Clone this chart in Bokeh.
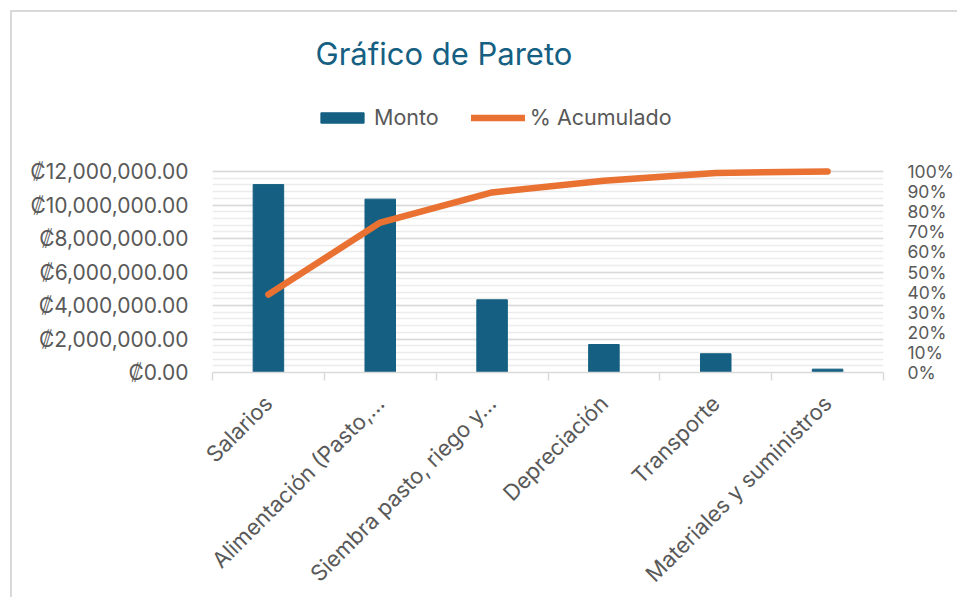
from bokeh.plotting import figure
from bokeh.models import (Range1d, FixedTicker, LinearAxis, Legend, LegendItem,
                          ColumnDataSource, Label)
from bokeh.embed import file_html
from bokeh.resources import INLINE

# ---- data ----
categories = ["Salarios", "Alimentación (Pasto,…", "Siembra pasto, riego y…",
              "Depreciación", "Transporte", "Materiales y suministros"]
monto = [11220000, 10350000, 4340000, 1670000, 1120000, 200000]
acumulado = [38.8, 74.6, 89.6, 95.4, 99.3, 100.0]

left_ticks = [0, 2000000, 4000000, 6000000, 8000000, 10000000, 12000000]
left_labels = ["₡0.00", "₡2,000,000.00", "₡4,000,000.00", "₡6,000,000.00",
               "₡8,000,000.00", "₡10,000,000.00", "₡12,000,000.00"]
minor_step = 400000
right_ticks = [0, 10, 20, 30, 40, 50, 60, 70, 80, 90, 100]
right_labels = ["0%", "10%", "20%", "30%", "40%", "50%", "60%", "70%",
                "80%", "90%", "100%"]

title_text = "Gráfico de Pareto"
FONT = "Inter"
TXT = "#595959"
BAR = "#156082"
LINE = "#E97132"

# ---- layout (pixels) ----
PLOT_H = 201          # height of the 0..12M band
FRAME_H = 342         # frame extends upward to hold title & legend
FRAME_W = 671

n = len(categories)
xs = [i + 0.5 for i in range(n)]
bounds = list(range(n + 1))
src = ColumnDataSource(dict(x=xs, monto=monto, acum=acumulado, cat=categories))

y_end = left_ticks[-1] * FRAME_H / PLOT_H
pct_end = right_ticks[-1] * FRAME_H / PLOT_H

p = figure(frame_width=FRAME_W, frame_height=FRAME_H,
           min_border_left=200, min_border_right=74,
           min_border_top=18, min_border_bottom=215,
           x_range=Range1d(0, n), y_range=Range1d(0, y_end),
           output_backend="svg", toolbar_location=None,
           margin=(10, 0, 0, 10),
           styles={"border-left": "2px solid #d9d9d9",
                   "border-top": "2px solid #d9d9d9"})
p.extra_y_ranges = {"pct": Range1d(0, pct_end)}
p.outline_line_color = None
p.background_fill_color = "white"
p.border_fill_color = "white"

# y axis (left)
minor = [v for v in range(0, left_ticks[-1] + 1, minor_step)]
yt = FixedTicker(ticks=left_ticks, minor_ticks=minor)
p.yaxis.ticker = yt
p.ygrid.ticker = yt
p.yaxis.major_label_overrides = {t: l for t, l in zip(left_ticks, left_labels)}
p.yaxis.axis_line_color = None
p.yaxis.major_tick_line_color = None
p.yaxis.minor_tick_line_color = None
p.yaxis.major_tick_out = 0
p.yaxis.minor_tick_out = 0
p.yaxis.major_label_standoff = 24
p.yaxis.major_label_text_font = FONT
p.yaxis.major_label_text_font_size = "21px"
p.yaxis.major_label_text_color = TXT

p.ygrid.grid_line_color = "#d9d9d9"
p.ygrid.grid_line_width = 1.5
p.ygrid.minor_grid_line_color = "#ececec"
p.ygrid.minor_grid_line_width = 1.5
p.xgrid.grid_line_color = None

# x axis
xt = FixedTicker(ticks=xs, minor_ticks=bounds)
p.xaxis.ticker = xt
p.xaxis.major_label_overrides = {x: c for x, c in zip(xs, categories)}
p.xaxis.major_tick_line_color = None
p.xaxis.major_tick_out = 0
p.xaxis.minor_tick_line_color = "#d9d9d9"
p.xaxis.minor_tick_line_width = 1.5
p.xaxis.minor_tick_out = 8
p.xaxis.minor_tick_in = 0
p.xaxis.axis_line_color = "#d9d9d9"
p.xaxis.axis_line_width = 1.5
p.xaxis.major_label_orientation = 0.785398
p.xaxis.major_label_standoff = 19
p.xaxis.major_label_text_font = FONT
p.xaxis.major_label_text_font_size = "22px"
p.xaxis.major_label_text_color = TXT

# right axis
ra = LinearAxis(y_range_name="pct", ticker=FixedTicker(ticks=right_ticks))
ra.major_label_overrides = {t: l for t, l in zip(right_ticks, right_labels)}
ra.axis_line_color = None
ra.major_tick_line_color = None
ra.minor_tick_line_color = None
ra.major_tick_out = 0
ra.minor_tick_out = 0
ra.major_label_standoff = 24
ra.major_label_text_font = FONT
ra.major_label_text_font_size = "17.5px"
ra.major_label_text_color = TXT
p.add_layout(ra, "right")

bars = p.vbar(x="x", top="monto", width=0.273, source=src, color=BAR)
ln = p.line(x="x", y="acum", source=src, y_range_name="pct", line_color=LINE,
            line_width=6.5, line_cap="round", line_join="round")

legend = Legend(items=[LegendItem(label="Monto", renderers=[bars]),
                       LegendItem(label="% Acumulado", renderers=[ln])],
                orientation="horizontal", location=(103, 242),
                glyph_width=54, glyph_height=13, label_standoff=5, spacing=32,
                padding=0, margin=0, border_line_color=None,
                background_fill_alpha=0,
                label_text_font=FONT, label_text_font_size="21.5px",
                label_text_color=TXT)
p.add_layout(legend)

title = Label(x=103, y=319, x_units="screen", y_units="screen", text=title_text,
              text_font=FONT, text_font_size="31px", text_color=BAR,
              text_baseline="alphabetic")
p.add_layout(title)

open("out.html", "w").write(file_html(p, INLINE))
